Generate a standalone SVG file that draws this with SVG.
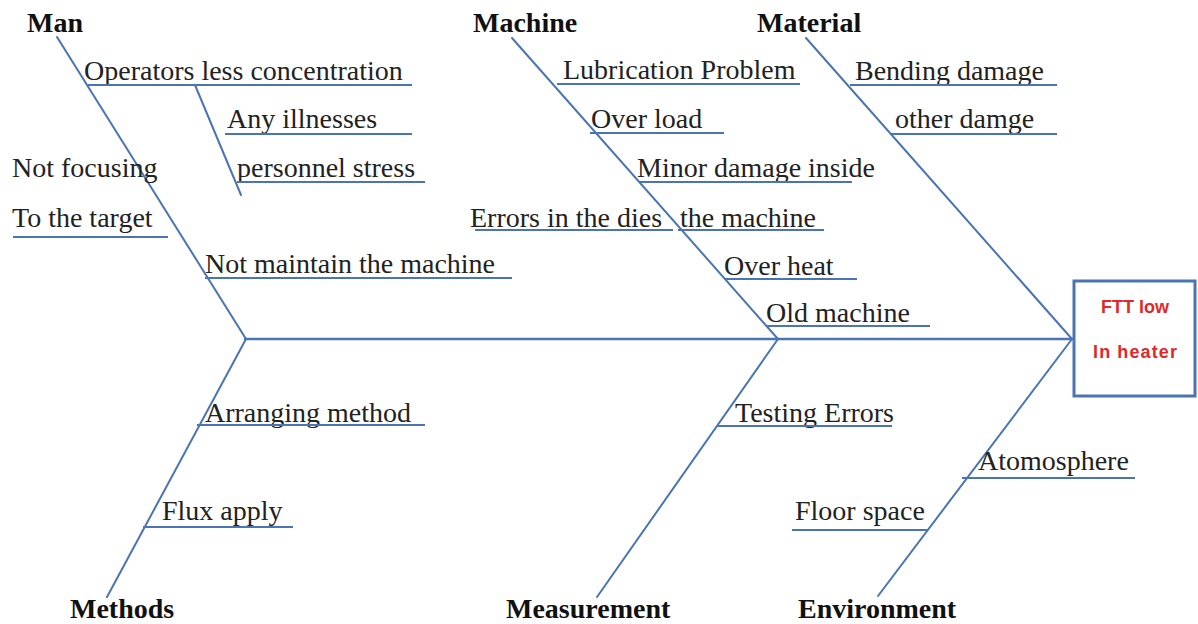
<svg xmlns="http://www.w3.org/2000/svg" width="1198" height="624" viewBox="0 0 1198 624">
<style>
.bone{stroke:#4a74b4;stroke-width:2;fill:none;stroke-linecap:round}
.ul{stroke:#4a74b4;stroke-width:2;fill:none}
.t{font-family:"Liberation Serif","Times New Roman",serif;font-size:28px;fill:#222}
.h{font-family:"Liberation Serif","Times New Roman",serif;font-size:28px;font-weight:bold;fill:#111}
.r{font-family:"Liberation Sans",Arial,sans-serif;font-size:18px;font-weight:bold;fill:#e02828;text-anchor:middle}
</style>
<rect width="1198" height="624" fill="#fff"/>
<g id="connectors">
<line class="bone" x1="245" y1="339" x2="1073" y2="339" style="stroke-width:2.5"/>
<line class="bone" x1="57" y1="37" x2="246" y2="339"/>
<line class="bone" x1="195" y1="85" x2="241" y2="195"/>
<line class="bone" x1="512" y1="38" x2="778" y2="339"/>
<line class="bone" x1="806" y1="38" x2="1072" y2="339"/>
<line class="bone" x1="246" y1="339" x2="107" y2="597"/>
<line class="bone" x1="778" y1="339" x2="597" y2="597"/>
<line class="bone" x1="1072" y1="339" x2="878" y2="596"/>
</g>
<g id="effect">
<rect x="1074" y="281" width="121" height="115" fill="#fff" stroke="#4a74b4" stroke-width="3"/>
<text class="r" x="1135" y="313">FTT low</text>
<text class="r" x="1135" y="358" textLength="84">In heater</text>
</g>
<g id="man">
<text class="h" x="27" y="32">Man</text>
<text class="t" x="84" y="80">Operators less concentration</text>
<line class="ul" x1="88" y1="85" x2="412" y2="85"/>
<text class="t" x="227" y="128">Any illnesses</text>
<line class="ul" x1="225" y1="134" x2="412" y2="134"/>
<text class="t" x="237" y="177">personnel stress</text>
<line class="ul" x1="237" y1="182" x2="425" y2="182"/>
<text class="t" x="12" y="177">Not focusing</text>
<text class="t" x="12" y="227">To the target</text>
<line class="ul" x1="13" y1="237" x2="168" y2="237"/>
<text class="t" x="205" y="273">Not maintain the machine</text>
<line class="ul" x1="205" y1="278" x2="512" y2="278"/>
</g>
<g id="machine">
<text class="h" x="473" y="32">Machine</text>
<text class="t" x="563" y="79">Lubrication Problem</text>
<line class="ul" x1="557" y1="84" x2="800" y2="84"/>
<text class="t" x="591" y="128">Over load</text>
<line class="ul" x1="590" y1="133" x2="724" y2="133"/>
<text class="t" x="637" y="177">Minor damage inside</text>
<line class="ul" x1="640" y1="182" x2="852" y2="182"/>
<text class="t" x="470" y="227">Errors in the dies<tspan x="680">the machine</tspan></text>
<line class="ul" x1="475" y1="230" x2="673" y2="230"/>
<line class="ul" x1="678" y1="230" x2="824" y2="230"/>
<text class="t" x="724" y="275">Over heat</text>
<line class="ul" x1="725" y1="279" x2="857" y2="279"/>
<text class="t" x="766" y="322">Old machine</text>
<line class="ul" x1="766" y1="326" x2="930" y2="326"/>
</g>
<g id="material">
<text class="h" x="757" y="32">Material</text>
<text class="t" x="855" y="80">Bending damage</text>
<line class="ul" x1="850" y1="85" x2="1057" y2="85"/>
<text class="t" x="895" y="128">other damge</text>
<line class="ul" x1="890" y1="134" x2="1057" y2="134"/>
</g>
<g id="methods">
<text class="h" x="70" y="618">Methods</text>
<text class="t" x="205" y="422">Arranging method</text>
<line class="ul" x1="197" y1="425" x2="425" y2="425"/>
<text class="t" x="162" y="520">Flux apply</text>
<line class="ul" x1="143" y1="527" x2="293" y2="527"/>
</g>
<g id="measurement">
<text class="h" x="506" y="618">Measurement</text>
<text class="t" x="735" y="422">Testing Errors</text>
<line class="ul" x1="718" y1="426" x2="892" y2="426"/>
</g>
<g id="environment">
<text class="h" x="798" y="618">Environment</text>
<text class="t" x="978" y="470">Atomosphere</text>
<line class="ul" x1="962" y1="478" x2="1135" y2="478"/>
<text class="t" x="795" y="520">Floor space</text>
<line class="ul" x1="792" y1="530" x2="928" y2="530"/>
</g>
</svg>
